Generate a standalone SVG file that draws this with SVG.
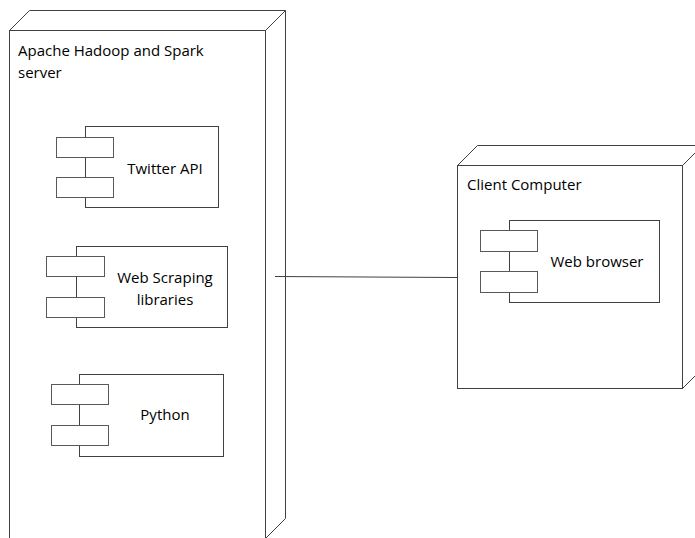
<svg xmlns="http://www.w3.org/2000/svg" width="695" height="538" viewBox="0 0 695 538">
<style>
.n{fill:#fff;stroke:#404040;stroke-width:1}
.c{fill:#fff;stroke:#404040;stroke-width:1}
.p{fill:#fff;stroke:#595959;stroke-width:1}
.e{fill:none;stroke:#404040;stroke-width:1}
text{font-family:"Open Sans","Liberation Sans",Arial,sans-serif;font-size:15px;fill:#000}
</style>
<rect width="695" height="538" fill="#fff"/>
<g id="server">
<path class="n" d="M9.5 30.5 L29.5 10.5 L285.5 10.5 L285.5 518.5 L265.5 538.5 L265.5 30.5 Z"/>
<path class="e" d="M265.5 30.5 L285.5 10.5"/>
<rect class="n" x="9.5" y="30.5" width="256" height="520"/>
<text x="18" y="56">Apache Hadoop and Spark</text>
<text x="18" y="78">server</text>
</g>
<g id="twitter">
<rect class="c" x="85.5" y="126.5" width="133" height="81"/>
<rect class="p" x="56.5" y="137.5" width="57" height="20"/>
<rect class="p" x="56.5" y="177.5" width="57" height="20"/>
<text x="165" y="174" text-anchor="middle">Twitter API</text>
</g>
<g id="scraping">
<rect class="c" x="76.5" y="246.5" width="151" height="81"/>
<rect class="p" x="46.5" y="256.5" width="58" height="20"/>
<rect class="p" x="46.5" y="297.5" width="58" height="20"/>
<text x="165" y="283" text-anchor="middle">Web Scraping</text>
<text x="165" y="305" text-anchor="middle">libraries</text>
</g>
<g id="python">
<rect class="c" x="79.5" y="374.5" width="144" height="82"/>
<rect class="p" x="51.5" y="384.5" width="57" height="20"/>
<rect class="p" x="51.5" y="425.5" width="57" height="20"/>
<text x="165" y="420" text-anchor="middle">Python</text>
</g>
<g id="client">
<path class="n" d="M457.5 165.5 L477.5 145.5 L702.5 145.5 L702.5 368.5 L682.5 388.5 L682.5 165.5 Z"/>
<path class="e" d="M682.5 165.5 L702.5 145.5"/>
<rect class="n" x="457.5" y="165.5" width="225" height="223"/>
<text x="467" y="190">Client Computer</text>
</g>
<g id="browser">
<rect class="c" x="509.5" y="220.5" width="150" height="82"/>
<rect class="p" x="480.5" y="230.5" width="57" height="21"/>
<rect class="p" x="480.5" y="271.5" width="57" height="21"/>
<text x="597" y="267" text-anchor="middle">Web browser</text>
</g>
<g id="connectors">
<path class="e" d="M275 276.5 L457 277.5"/>
</g>
</svg>
